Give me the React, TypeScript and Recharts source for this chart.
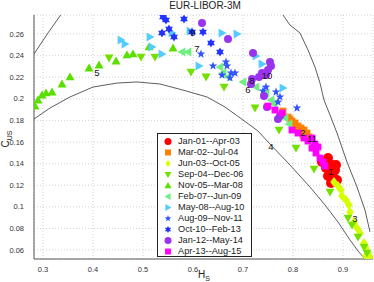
import React from 'react';
import { ScatterChart, Scatter, XAxis, YAxis, CartesianGrid } from 'recharts';

const xTicks = [0.3, 0.4, 0.5, 0.6, 0.7, 0.8, 0.9];
const yTicks = [0.06, 0.08, 0.1, 0.12, 0.14, 0.16, 0.18, 0.2, 0.22, 0.24, 0.26];

const legendNames = [
  'Jan-01--Apr-03', 'Mar-02--Jul-04', 'Jun-03--Oct-05', 'Sep-04--Dec-06',
  'Nov-05--Mar-08', 'Feb-07--Jun-09', 'May-08--Aug-10', 'Aug-09--Nov-11',
  'Oct-10--Feb-13', 'Jan-12--May-14', 'Apr-13--Aug-15',
];

const s1 = [
  { h: 0.858, c: 0.1415 }, { h: 0.870, c: 0.1452 }, { h: 0.878, c: 0.1387 }, { h: 0.884, c: 0.134 },
  { h: 0.874, c: 0.1322 }, { h: 0.866, c: 0.136 }, { h: 0.880, c: 0.1276 }, { h: 0.888, c: 0.1248 },
  { h: 0.876, c: 0.122 }, { h: 0.870, c: 0.1285 }, { h: 0.886, c: 0.1387 }, { h: 0.844, c: 0.1554 },
];
const s2 = [
  { h: 0.78, c: 0.1887 }, { h: 0.79, c: 0.1831 }, { h: 0.798, c: 0.1794 }, { h: 0.804, c: 0.1776 },
  { h: 0.81, c: 0.1748 }, { h: 0.816, c: 0.173 }, { h: 0.822, c: 0.1711 }, { h: 0.828, c: 0.1683 },
  { h: 0.806, c: 0.173 }, { h: 0.794, c: 0.1813 }, { h: 0.82, c: 0.1665 }, { h: 0.832, c: 0.1646 },
];
const s3 = [
  { h: 0.882, c: 0.123 }, { h: 0.89, c: 0.1193 }, { h: 0.896, c: 0.1156 }, { h: 0.898, c: 0.11 },
  { h: 0.906, c: 0.1063 }, { h: 0.912, c: 0.1017 }, { h: 0.914, c: 0.0952 }, { h: 0.922, c: 0.0859 },
  { h: 0.928, c: 0.0804 }, { h: 0.934, c: 0.0757 }, { h: 0.942, c: 0.0665 }, { h: 0.946, c: 0.0619 },
  { h: 0.95, c: 0.0572 }, { h: 0.954, c: 0.0535 }, { h: 0.946, c: 0.0544 },
];
const s4 = [
  { h: 0.432, c: 0.2378 }, { h: 0.496, c: 0.2387 }, { h: 0.524, c: 0.2387 }, { h: 0.596, c: 0.2248 },
  { h: 0.626, c: 0.2202 }, { h: 0.662, c: 0.2109 }, { h: 0.724, c: 0.1915 }, { h: 0.772, c: 0.1711 },
  { h: 0.806, c: 0.1544 }, { h: 0.842, c: 0.135 }, { h: 0.874, c: 0.1137 }, { h: 0.91, c: 0.0896 },
  { h: 0.918, c: 0.0831 }, { h: 0.93, c: 0.072 }, { h: 0.942, c: 0.0628 }, { h: 0.948, c: 0.0572 },
];
const s5 = [
  { h: 0.284, c: 0.1933 }, { h: 0.29, c: 0.1989 }, { h: 0.298, c: 0.2035 }, { h: 0.306, c: 0.2054 },
  { h: 0.318, c: 0.2063 }, { h: 0.338, c: 0.2137 }, { h: 0.354, c: 0.2202 }, { h: 0.392, c: 0.2285 },
  { h: 0.412, c: 0.2313 }, { h: 0.446, c: 0.235 }, { h: 0.468, c: 0.2406 }, { h: 0.48, c: 0.2415 },
  { h: 0.512, c: 0.248 }, { h: 0.56, c: 0.247 },
];
const s6 = [
  { h: 0.578, c: 0.2433 }, { h: 0.59, c: 0.2433 }, { h: 0.654, c: 0.2294 }, { h: 0.66, c: 0.2239 },
  { h: 0.67, c: 0.2202 }, { h: 0.70, c: 0.2156 }, { h: 0.726, c: 0.2109 }, { h: 0.746, c: 0.2054 },
  { h: 0.756, c: 0.1989 }, { h: 0.762, c: 0.1952 }, { h: 0.784, c: 0.1822 }, { h: 0.792, c: 0.1767 },
];
const s7 = [
  { h: 0.456, c: 0.2544 }, { h: 0.464, c: 0.2507 }, { h: 0.514, c: 0.2572 }, { h: 0.518, c: 0.248 },
  { h: 0.538, c: 0.2415 }, { h: 0.558, c: 0.2609 }, { h: 0.594, c: 0.2628 }, { h: 0.612, c: 0.2304 },
  { h: 0.658, c: 0.2609 }, { h: 0.688, c: 0.26 }, { h: 0.726, c: 0.2396 }, { h: 0.738, c: 0.2322 },
  { h: 0.78, c: 0.21 },
];
const s8 = [
  { h: 0.616, c: 0.2415 }, { h: 0.64, c: 0.2304 }, { h: 0.666, c: 0.2341 }, { h: 0.668, c: 0.2304 },
  { h: 0.676, c: 0.2239 }, { h: 0.684, c: 0.2239 }, { h: 0.674, c: 0.2193 }, { h: 0.658, c: 0.222 },
  { h: 0.746, c: 0.2109 }, { h: 0.74, c: 0.2072 }, { h: 0.766, c: 0.2063 }, { h: 0.774, c: 0.2017 },
  { h: 0.77, c: 0.197 }, { h: 0.808, c: 0.1915 },
];
const s9 = [
  { h: 0.54, c: 0.2757 }, { h: 0.546, c: 0.273 }, { h: 0.582, c: 0.2739 }, { h: 0.538, c: 0.2609 },
  { h: 0.552, c: 0.2646 }, { h: 0.562, c: 0.2572 }, { h: 0.598, c: 0.2619 }, { h: 0.62, c: 0.2619 },
  { h: 0.636, c: 0.2517 }, { h: 0.654, c: 0.2433 },
];
const s10 = [
  { h: 0.618, c: 0.2702 }, { h: 0.67, c: 0.2554 }, { h: 0.72, c: 0.2424 }, { h: 0.754, c: 0.2341 },
  { h: 0.756, c: 0.2304 }, { h: 0.75, c: 0.2267 }, { h: 0.738, c: 0.2239 }, { h: 0.746, c: 0.222 },
  { h: 0.732, c: 0.2202 }, { h: 0.718, c: 0.2183 }, { h: 0.716, c: 0.2137 }, { h: 0.742, c: 0.2026 },
  { h: 0.748, c: 0.1924 }, { h: 0.774, c: 0.1841 }, { h: 0.77, c: 0.1813 },
];
const s11 = [
  { h: 0.75, c: 0.1933 }, { h: 0.764, c: 0.1896 }, { h: 0.778, c: 0.1869 }, { h: 0.798, c: 0.1711 },
  { h: 0.81, c: 0.1683 }, { h: 0.822, c: 0.1637 }, { h: 0.83, c: 0.1609 }, { h: 0.838, c: 0.1637 },
  { h: 0.844, c: 0.1581 }, { h: 0.85, c: 0.1554 }, { h: 0.838, c: 0.1544 }, { h: 0.846, c: 0.1498 },
  { h: 0.854, c: 0.1452 }, { h: 0.86, c: 0.1415 }, { h: 0.864, c: 0.1378 },
];

const periodLabels = [
  { h: 0.876, c: 0.133, t: '1' }, { h: 0.82, c: 0.169, t: '2' }, { h: 0.924, c: 0.089, t: '3' },
  { h: 0.756, c: 0.156, t: '4' }, { h: 0.408, c: 0.224, t: '5' }, { h: 0.71, c: 0.2085, t: '6' },
  { h: 0.608, c: 0.247, t: '7' }, { h: 0.718, c: 0.2168, t: '8' }, { h: 0.60, c: 0.261, t: '9' },
  { h: 0.748, c: 0.222, t: '10' }, { h: 0.838, c: 0.163, t: '11' },
];

const curveLeft = [
  { h: 0.282, c: 0.2415 }, { h: 0.31, c: 0.261 }, { h: 0.336, c: 0.278 },
];
const curveRight = [
  { h: 0.78, c: 0.2776 }, { h: 0.794, c: 0.2683 }, { h: 0.814, c: 0.2609 }, { h: 0.83, c: 0.2452 },
  { h: 0.844, c: 0.2294 }, { h: 0.854, c: 0.2146 }, { h: 0.862, c: 0.1989 }, { h: 0.874, c: 0.185 },
  { h: 0.888, c: 0.1683 }, { h: 0.908, c: 0.1415 }, { h: 0.928, c: 0.1183 }, { h: 0.944, c: 0.097 },
  { h: 0.954, c: 0.0767 },
];
const curveLower = [
  { h: 0.282, c: 0.1813 }, { h: 0.314, c: 0.1915 }, { h: 0.354, c: 0.2017 }, { h: 0.40, c: 0.2109 },
  { h: 0.448, c: 0.2146 }, { h: 0.488, c: 0.2156 }, { h: 0.534, c: 0.2137 }, { h: 0.58, c: 0.2081 },
  { h: 0.628, c: 0.2017 }, { h: 0.664, c: 0.1924 }, { h: 0.70, c: 0.1804 }, { h: 0.73, c: 0.1702 },
  { h: 0.754, c: 0.1581 }, { h: 0.794, c: 0.1387 }, { h: 0.834, c: 0.1183 }, { h: 0.864, c: 0.1017 },
  { h: 0.89, c: 0.0859 }, { h: 0.914, c: 0.0693 }, { h: 0.93, c: 0.0591 }, { h: 0.944, c: 0.0517 },
];

const FONT = '"Liberation Sans", Arial, Helvetica, sans-serif';

type Kind = 'circle' | 'square' | 'diamond' | 'down' | 'up' | 'left' | 'right' | 'star' | 'hex';

function markerEl(kind: Kind, cx: number, cy: number, s: number, color: string, key?: any) {
  const r = s / 2;
  switch (kind) {
    case 'circle':
      return <circle key={key} cx={cx} cy={cy} r={r} fill={color} />;
    case 'square':
      return <rect key={key} x={cx - r * 0.85} y={cy - r * 0.85} width={s * 0.85} height={s * 0.85} fill={color} />;
    case 'diamond':
      return <polygon key={key} points={`${cx},${cy - r} ${cx + r * 0.75},${cy} ${cx},${cy + r} ${cx - r * 0.75},${cy}`} fill={color} />;
    case 'down':
      return <polygon key={key} points={`${cx - r},${cy - r * 0.75} ${cx + r},${cy - r * 0.75} ${cx},${cy + r}`} fill={color} />;
    case 'up':
      return <polygon key={key} points={`${cx - r},${cy + r * 0.75} ${cx + r},${cy + r * 0.75} ${cx},${cy - r}`} fill={color} />;
    case 'left':
      return <polygon key={key} points={`${cx + r * 0.75},${cy - r} ${cx + r * 0.75},${cy + r} ${cx - r},${cy}`} fill={color} />;
    case 'right':
      return <polygon key={key} points={`${cx - r * 0.75},${cy - r} ${cx - r * 0.75},${cy + r} ${cx + r},${cy}`} fill={color} />;
    case 'star': {
      const pts: string[] = [];
      for (let i = 0; i < 10; i++) {
        const a = -Math.PI / 2 + (i * Math.PI) / 5;
        const rr = i % 2 === 0 ? r : r * 0.42;
        pts.push(`${cx + rr * Math.cos(a)},${cy + rr * Math.sin(a)}`);
      }
      return <polygon key={key} points={pts.join(' ')} fill={color} />;
    }
    case 'hex': {
      const pts: string[] = [];
      for (let i = 0; i < 12; i++) {
        const a = -Math.PI / 2 + (i * Math.PI) / 6;
        const rr = i % 2 === 0 ? r : r * 0.58;
        pts.push(`${cx + rr * Math.cos(a)},${cy + rr * Math.sin(a)}`);
      }
      return <polygon key={key} points={pts.join(' ')} fill={color} />;
    }
  }
  return null;
}

const seriesDefs: { data: { h: number; c: number }[]; kind: Kind; color: string; size: number }[] = [
  { data: s1, kind: 'circle', color: '#ff0000', size: 10 },
  { data: s2, kind: 'square', color: '#ff7f00', size: 8 },
  { data: s3, kind: 'diamond', color: '#d4ff00', size: 10 },
  { data: s4, kind: 'down', color: '#73e000', size: 9 },
  { data: s5, kind: 'up', color: '#5ae000', size: 9 },
  { data: s6, kind: 'left', color: '#70ee80', size: 9 },
  { data: s7, kind: 'right', color: '#55ccff', size: 9 },
  { data: s8, kind: 'star', color: '#3355ff', size: 9 },
  { data: s9, kind: 'hex', color: '#2233ff', size: 9 },
  { data: s10, kind: 'circle', color: '#9933ee', size: 8 },
  { data: s11, kind: 'square', color: '#ff00ff', size: 8 },
];

const fmt = (v: number) => String(Math.round(v * 100) / 100);

const XTick = (p: any) => (
  <text x={p.x} y={p.y + 2} textAnchor="middle" dominantBaseline="central" fontSize={7.5} fill="#333" fontFamily={FONT}>
    {fmt(p.payload.value)}
  </text>
);
const YTick = (p: any) => (
  <text x={p.x - 2} y={p.y} textAnchor="end" dominantBaseline="central" fontSize={7.5} fill="#333" fontFamily={FONT}>
    {fmt(p.payload.value)}
  </text>
);

export default function App() {
  return (
    <div style={{ position: 'absolute', left: 0, top: 0, width: 374, height: 282, background: '#fff', fontFamily: FONT }}>
      <ScatterChart width={374} height={282} margin={{ top: 15, right: 1, bottom: 0, left: 0 }}>
        <CartesianGrid stroke="#c8c8c8" strokeDasharray="1 2" strokeWidth={0.8} />
        <XAxis
          type="number"
          dataKey="h"
          domain={[0.282, 0.96]}
          ticks={xTicks}
          interval={0}
          height={23}
          tick={<XTick />}
          tickLine={false}
          axisLine={{ stroke: '#555', strokeWidth: 1 }}
          allowDataOverflow
        />
        <YAxis
          type="number"
          dataKey="c"
          domain={[0.0517, 0.2776]}
          ticks={yTicks}
          interval={0}
          width={34}
          tick={<YTick />}
          tickLine={false}
          axisLine={{ stroke: '#555', strokeWidth: 1 }}
          allowDataOverflow
        />
        <Scatter data={curveLeft} line={{ stroke: '#333', strokeWidth: 0.8 }} lineType="joint" shape={() => <g />} isAnimationActive={false} />
        <Scatter data={curveRight} line={{ stroke: '#333', strokeWidth: 0.8 }} lineType="joint" shape={() => <g />} isAnimationActive={false} />
        <Scatter data={curveLower} line={{ stroke: '#333', strokeWidth: 0.8 }} lineType="joint" shape={() => <g />} isAnimationActive={false} />
        {seriesDefs.map((s, i) => (
          <Scatter
            key={i}
            data={s.data}
            isAnimationActive={false}
            shape={(p: any) => markerEl(s.kind, p.cx, p.cy, s.size, s.color) as any}
          />
        ))}
        <Scatter
          data={periodLabels}
          isAnimationActive={false}
          shape={(p: any) => (
            <text x={p.cx} y={p.cy} textAnchor="middle" dominantBaseline="central" fontSize={9.5} fill="#111" fontFamily={FONT}>
              {p.payload?.t ?? p.t}
            </text>
          )}
        />
      </ScatterChart>
      <div style={{ position: 'absolute', left: 165, top: 0, width: 80, textAlign: 'center', fontSize: 10, lineHeight: '12px', color: '#222' }}>
        EUR-LIBOR-3M
      </div>
      <div style={{ position: 'absolute', left: 198, top: 269, fontSize: 10, lineHeight: '11px', color: '#222' }}>
        H<sub style={{ fontSize: 7 }}>S</sub>
      </div>
      <div style={{ position: 'absolute', left: -8, top: 132, width: 30, height: 14, transform: 'rotate(-90deg)', fontSize: 10, lineHeight: '12px', color: '#222', textAlign: 'center' }}>
        C<sub style={{ fontSize: 7 }}>US</sub>
      </div>
      <div style={{ position: 'absolute', left: 157, top: 133, width: 93, height: 122, border: '1px solid #222', background: '#fff' }}>
        {legendNames.map((n, i) => (
          <div key={n} style={{ position: 'absolute', left: 0, top: 2 + i * 11, height: 11, display: 'flex', alignItems: 'center' }}>
            <svg width={20} height={11} style={{ display: 'block' }}>
              {markerEl(seriesDefs[i].kind, 10, 5.5, 7, seriesDefs[i].color)}
            </svg>
            <span style={{ fontSize: 9.2, lineHeight: '11px', color: '#222', whiteSpace: 'nowrap' }}>{n}</span>
          </div>
        ))}
      </div>
    </div>
  );
}
